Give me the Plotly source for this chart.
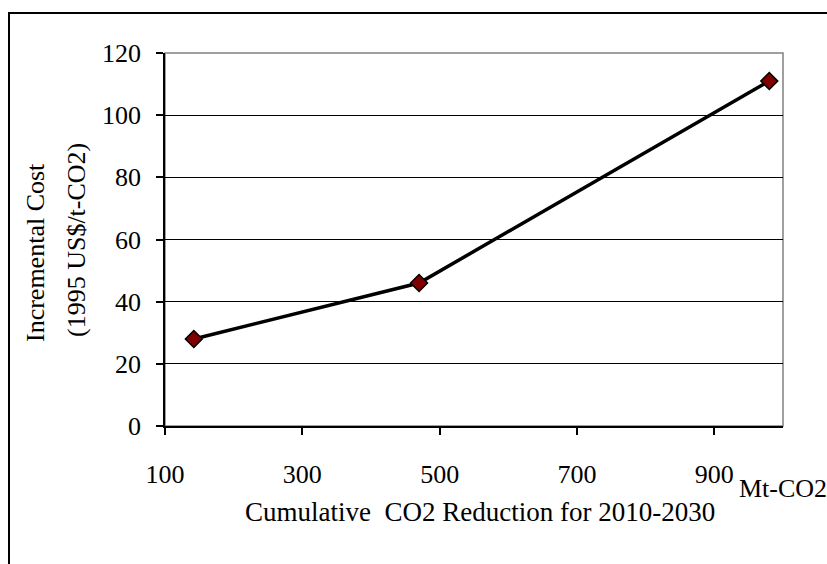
import plotly.graph_objects as go

# Cumulative CO2 reduction (Mt-CO2) vs incremental cost (1995 US$/t-CO2)
reduction = [142, 470, 980]
cost = [28, 46, 111]

x_ticks = [100, 300, 500, 700, 900]
y_ticks = [0, 20, 40, 60, 80, 100, 120]

FONT = "Liberation Serif, Times New Roman, serif"
W, H = 827, 564
L, R, T, B = 165, 44, 53, 138
PW, PH = W - L - R, H - T - B


def px_x(p):
    return (p - L) / PW


def px_y(p):
    return 1 - (p - T) / PH


fig = go.Figure()
fig.add_trace(go.Scatter(
    x=reduction, y=cost, mode="lines+markers",
    line=dict(color="black", width=3.5),
    marker=dict(symbol="diamond", size=13, color="#800000",
                line=dict(color="black", width=1.5)),
    showlegend=False, cliponaxis=False,
))

fig.update_xaxes(
    range=[100, 1000], tickvals=x_ticks, ticktext=[str(v) for v in x_ticks],
    showgrid=False, zeroline=False,
    showline=True, linecolor="black", linewidth=1.5,
    ticks="outside", ticklen=7, tickcolor="black", tickwidth=1.5,
    ticklabelstandoff=17,
    tickfont=dict(family=FONT, size=26, color="black"),
)
fig.update_yaxes(
    range=[0, 120], tickvals=y_ticks,
    showgrid=True, gridcolor="black", gridwidth=1,
    zeroline=False,
    showline=True, linecolor="black", linewidth=1.5,
    ticks="outside", ticklen=7, tickcolor="black", tickwidth=1.5,
    ticklabelstandoff=10,
    tickfont=dict(family=FONT, size=26, color="black"),
)

shapes = [
    # plot area border
    dict(type="rect", xref="paper", yref="paper", x0=0, x1=1, y0=0, y1=1,
         line=dict(color="#808080", width=1.5), layer="below"),
    # outer chart frame
    dict(type="rect", xref="paper", yref="paper",
         x0=px_x(9), x1=px_x(W + 10), y0=px_y(H + 10), y1=px_y(13),
         line=dict(color="black", width=2), layer="below"),
]

annotations = [
    dict(text="Incremental Cost", xref="paper", yref="paper",
         x=px_x(35), y=px_y(253), textangle=-90, showarrow=False,
         xanchor="center", yanchor="middle",
         font=dict(family=FONT, size=26, color="black")),
    dict(text="(1995 US$/t-CO2)", xref="paper", yref="paper",
         x=px_x(76), y=px_y(240), textangle=-90, showarrow=False,
         xanchor="center", yanchor="middle",
         font=dict(family=FONT, size=26, color="black")),
    dict(text="Cumulative  CO2 Reduction for 2010-2030", xref="paper", yref="paper",
         x=px_x(480), y=px_y(512), showarrow=False,
         xanchor="center", yanchor="middle",
         font=dict(family=FONT, size=27, color="black")),
    dict(text="Mt-CO2", xref="paper", yref="paper",
         x=px_x(737), y=px_y(489), showarrow=False,
         xanchor="left", yanchor="middle",
         font=dict(family=FONT, size=26, color="black")),
]

fig.update_layout(
    width=W, height=H,
    margin=dict(l=L, r=R, t=T, b=B),
    paper_bgcolor="white", plot_bgcolor="white",
    shapes=shapes, annotations=annotations,
)

fig.write_html("out.html")
